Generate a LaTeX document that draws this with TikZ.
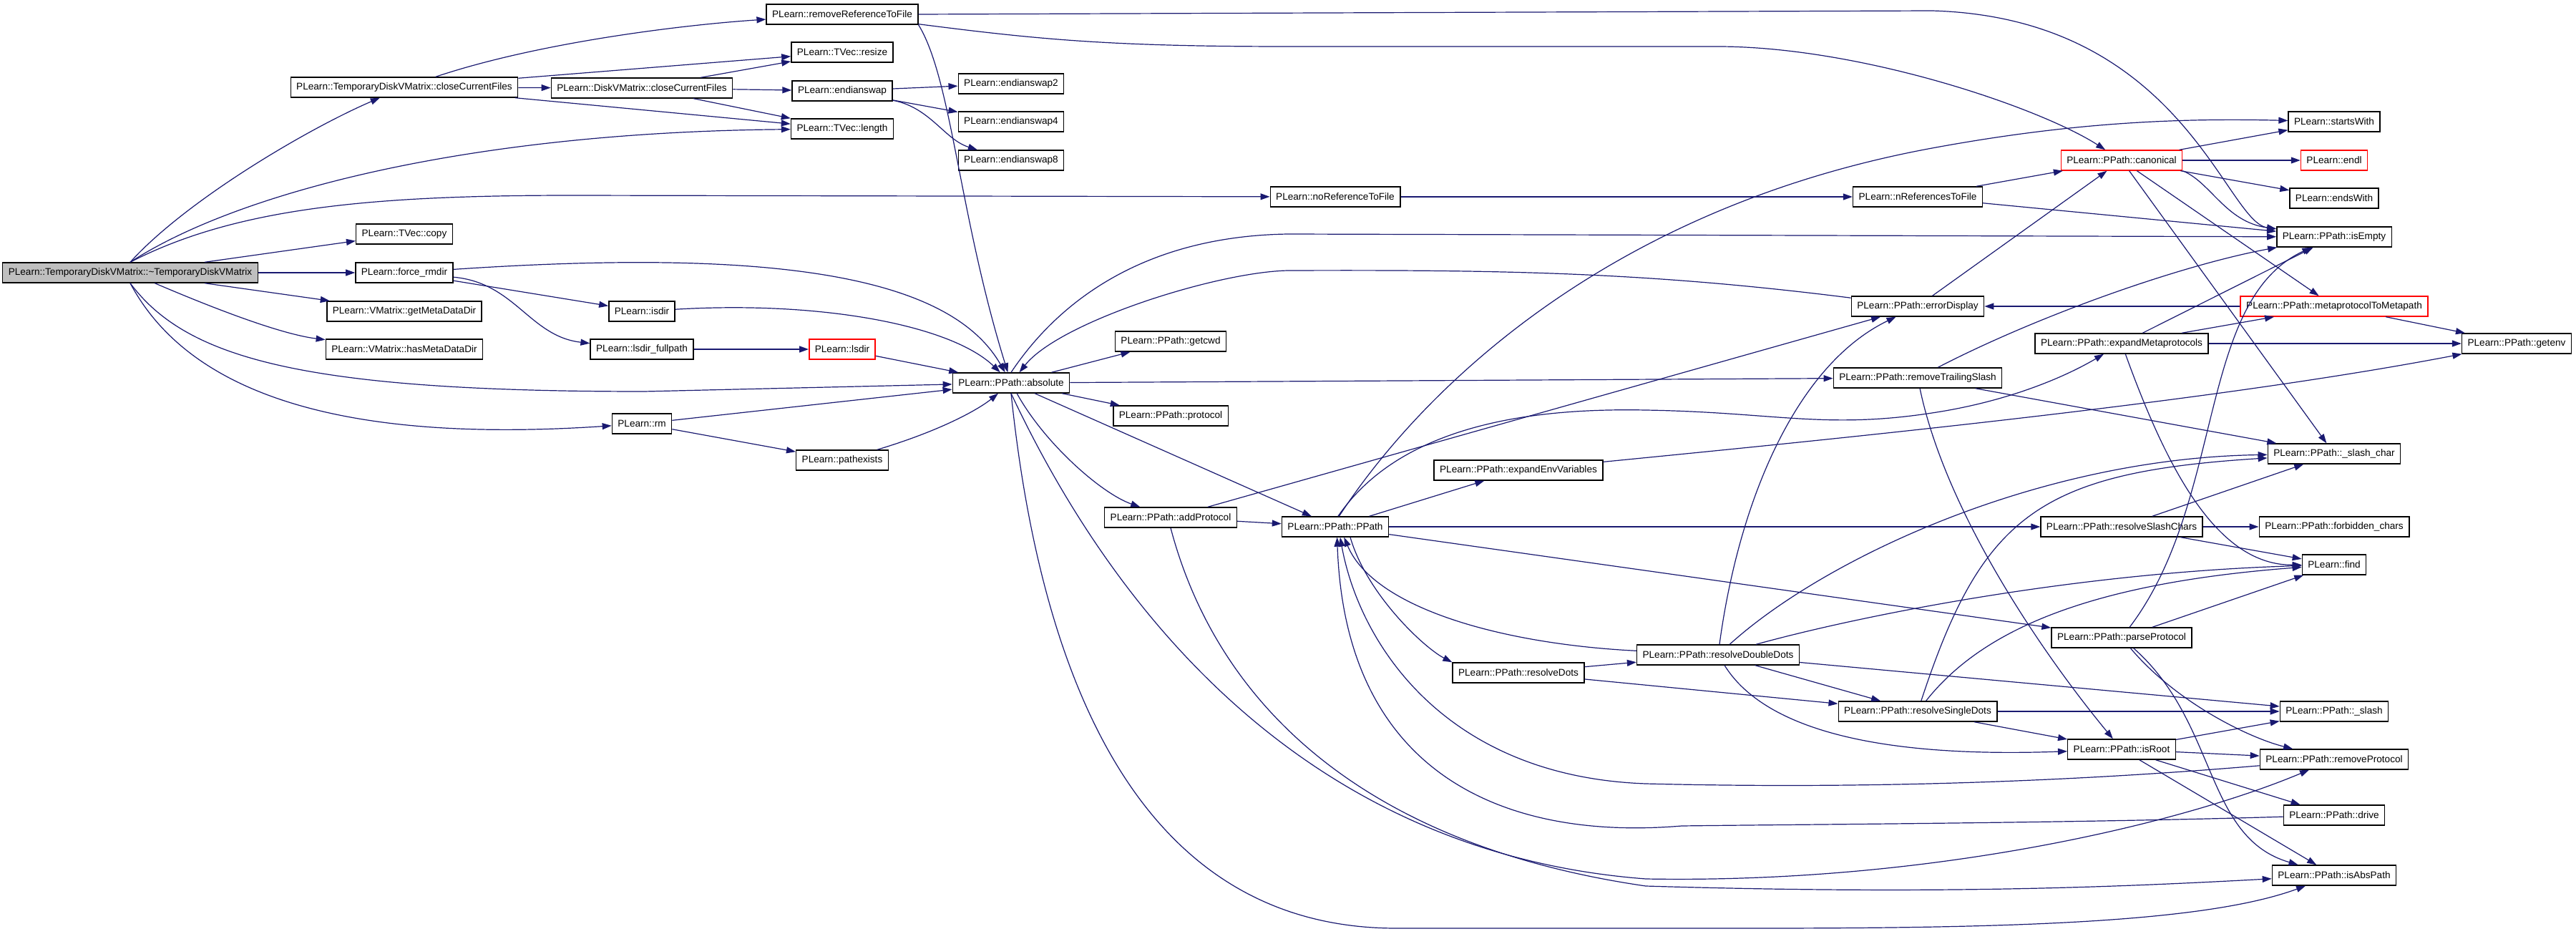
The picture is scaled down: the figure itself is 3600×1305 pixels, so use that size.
\documentclass[tikz,border=0pt]{standalone}
\usepackage{fontspec}
\setmainfont{Liberation Sans}
\usetikzlibrary{arrows.meta}
\definecolor{callblue}{HTML}{191970}

\begin{document}
\begin{tikzpicture}[x=0.5pt,y=-0.5pt,
    fn/.style={draw=black, line width=0.7pt, font=\fontsize{6.8}{8}\selectfont, inner xsep=4pt, inner ysep=0pt, minimum height=14pt},
    fnred/.style={fn, draw=red},
    fnroot/.style={fn, fill=black!25},
    call/.style={draw=callblue, line width=0.6pt, -{Triangle[length=6.5pt,width=4.5pt]}}]
    \useasboundingbox (0,0) rectangle (3600,1305);

    \node[fnroot] (main) at (182,381) {PLearn::TemporaryDiskVMatrix::\textasciitilde TemporaryDiskVMatrix};
    \node[fn] (tdvmClose) at (565,122) {PLearn::TemporaryDiskVMatrix::closeCurrentFiles};
    \node[fn] (copy) at (565,327) {PLearn::TVec::copy};
    \node[fn] (forceRmdir) at (565,381) {PLearn::force\_rmdir};
    \node[fn] (getMeta) at (565,435) {PLearn::VMatrix::getMetaDataDir};
    \node[fn] (hasMeta) at (565,488) {PLearn::VMatrix::hasMetaDataDir};
    \node[fn] (dvmClose) at (897,123) {PLearn::DiskVMatrix::closeCurrentFiles};
    \node[fn] (isdir) at (897,435) {PLearn::isdir};
    \node[fn] (lsdirFull) at (897,488) {PLearn::lsdir\_fullpath};
    \node[fn] (rm) at (897,592) {PLearn::rm};
    \node[fn] (removeRef) at (1177,20) {PLearn::removeReferenceToFile};
    \node[fn] (resize) at (1177,73) {PLearn::TVec::resize};
    \node[fn] (endianswap) at (1177,127) {PLearn::endianswap};
    \node[fn] (length) at (1177,180) {PLearn::TVec::length};
    \node[fnred] (lsdir) at (1177,488) {PLearn::lsdir};
    \node[fn] (pathexists) at (1177,643) {PLearn::pathexists};
    \node[fn] (swapTwo) at (1413,117) {PLearn::endianswap2};
    \node[fn] (swapFour) at (1413,170) {PLearn::endianswap4};
    \node[fn] (swapEight) at (1413,224) {PLearn::endianswap8};
    \node[fn] (absolute) at (1413,535) {PLearn::PPath::absolute};
    \node[fn] (getcwd) at (1636,477) {PLearn::PPath::getcwd};
    \node[fn] (protocol) at (1636,581) {PLearn::PPath::protocol};
    \node[fn] (addProtocol) at (1636,723) {PLearn::PPath::addProtocol};
    \node[fn] (noRef) at (1866,275) {PLearn::noReferenceToFile};
    \node[fn] (ppath) at (1866,736) {PLearn::PPath::PPath};
    \node[fn] (expandEnv) at (2122,657) {PLearn::PPath::expandEnvVariables};
    \node[fn] (resolveDots) at (2122,940) {PLearn::PPath::resolveDots};
    \node[fn] (resolveDD) at (2401,915) {PLearn::PPath::resolveDoubleDots};
    \node[fn] (nRef) at (2680,275) {PLearn::nReferencesToFile};
    \node[fn] (errorDisplay) at (2680,428) {PLearn::PPath::errorDisplay};
    \node[fn] (removeTrailing) at (2680,528) {PLearn::PPath::removeTrailingSlash};
    \node[fn] (resolveSD) at (2680,994) {PLearn::PPath::resolveSingleDots};
    \node[fnred] (canonical) at (2965,224) {PLearn::PPath::canonical};
    \node[fn] (expandMeta) at (2965,480) {PLearn::PPath::expandMetaprotocols};
    \node[fn] (resolveSlash) at (2965,736) {PLearn::PPath::resolveSlashChars};
    \node[fn] (parseProtocol) at (2965,891) {PLearn::PPath::parseProtocol};
    \node[fn] (isRoot) at (2965,1047) {PLearn::PPath::isRoot};
    \node[fn] (startsWith) at (3262,170) {PLearn::startsWith};
    \node[fnred] (endl) at (3262,224) {PLearn::endl};
    \node[fn] (endsWith) at (3262,277) {PLearn::endsWith};
    \node[fn] (isEmpty) at (3262,331) {PLearn::PPath::isEmpty};
    \node[fnred] (metaToMeta) at (3262,428) {PLearn::PPath::metaprotocolToMetapath};
    \node[fn] (slashChar) at (3262,634) {PLearn::PPath::\_slash\_char};
    \node[fn] (forbidden) at (3262,736) {PLearn::PPath::forbidden\_chars};
    \node[fn] (find) at (3262,789) {PLearn::find};
    \node[fn] (slash) at (3262,994) {PLearn::PPath::\_slash};
    \node[fn] (removeProtocol) at (3262,1061) {PLearn::PPath::removeProtocol};
    \node[fn] (drive) at (3262,1139) {PLearn::PPath::drive};
    \node[fn] (isAbsPath) at (3262,1223) {PLearn::PPath::isAbsPath};
    \node[fn] (getenv) at (3517,480) {PLearn::PPath::getenv};

    \draw[call] (main.north) .. controls (260,280) and (430,180) .. (tdvmClose);
    \draw[call] (main.north) .. controls (330,270) and (650,185) .. (length);
    \draw[call] (main.north) .. controls (330,290) and (520,273) .. (800,273) -- (noRef);
    \draw[call] (main) -- (copy);
    \draw[call] (main) -- (forceRmdir);
    \draw[call] (main) -- (getMeta);
    \draw[call] (main) .. controls (320,440) and (400,468) .. (hasMeta);
    \draw[call] (main.south) .. controls (260,500) and (420,547) .. (900,547) -- (absolute);
    \draw[call] (main.south) .. controls (280,580) and (550,615) .. (rm);

    \draw[call] (tdvmClose) .. controls (750,60) and (950,35) .. (removeRef);
    \draw[call] (tdvmClose) -- (resize);
    \draw[call] (tdvmClose) -- (dvmClose);
    \draw[call] (tdvmClose) -- (length);
    \draw[call] (dvmClose) -- (resize);
    \draw[call] (dvmClose) -- (endianswap);
    \draw[call] (dvmClose) -- (length);
    \draw[call] (endianswap) -- (swapTwo);
    \draw[call] (endianswap) -- (swapFour);
    \draw[call] (endianswap) .. controls (1300,150) and (1320,195) .. (swapEight);

    \draw[call] (removeRef.east) -- (2700,15) .. controls (3050,25) and (3110,310) .. (isEmpty);
    \draw[call] (removeRef) .. controls (1450,55) and (1550,65) .. (1800,65) -- (2400,65) .. controls (2600,65) and (2850,150) .. (canonical);
    \draw[call] (removeRef.south east) .. controls (1330,110) and (1340,300) .. (absolute);
    \draw[call] (noRef) -- (nRef);
    \draw[call] (nRef) -- (canonical);
    \draw[call] (nRef) -- (isEmpty);

    \draw[call] (forceRmdir) -- (isdir);
    \draw[call] (forceRmdir) .. controls (720,395) and (740,470) .. (lsdirFull);
    \draw[call] (forceRmdir) .. controls (1100,345) and (1330,390) .. (absolute);
    \draw[call] (isdir) .. controls (1150,420) and (1330,455) .. (absolute);
    \draw[call] (lsdirFull) -- (lsdir);
    \draw[call] (lsdir) -- (absolute);
    \draw[call] (rm) -- (absolute);
    \draw[call] (rm) -- (pathexists);
    \draw[call] (pathexists) .. controls (1320,600) and (1370,570) .. (absolute);

    \draw[call] (absolute) -- (getcwd);
    \draw[call] (absolute) -- (protocol);
    \draw[call] (absolute) .. controls (1460,620) and (1540,690) .. (addProtocol);
    \draw[call] (absolute) -- (ppath);
    \draw[call] (absolute) -- (removeTrailing);
    \draw[call] (absolute.north) .. controls (1480,420) and (1600,330) .. (1800,327) -- (isEmpty);
    \draw[call] (absolute.south) .. controls (1540,820) and (1800,1190) .. (2300,1228) .. controls (2700,1235) and (3050,1150) .. (removeProtocol);
    \draw[call] (absolute.south) .. controls (1460,1000) and (1620,1296) .. (1950,1297) -- (2450,1297) .. controls (2800,1297) and (3080,1290) .. (isAbsPath);
    \draw[call] (errorDisplay) .. controls (2300,380) and (2100,377) .. (1800,378) .. controls (1700,380) and (1480,450) .. (absolute);
    \draw[call] (addProtocol) -- (errorDisplay);
    \draw[call] (addProtocol) -- (ppath);
    \draw[call] (addProtocol.south) .. controls (1700,980) and (1900,1180) .. (2300,1238) .. controls (2700,1250) and (2950,1240) .. (isAbsPath);

    \draw[call] (ppath) -- (expandEnv);
    \draw[call] (ppath) -- (resolveSlash);
    \draw[call] (ppath) -- (parseProtocol);
    \draw[call] (ppath.70) .. controls (1990,540) and (2250,290) .. (2700,207) .. controls (2900,170) and (3050,165) .. (startsWith);
    \draw[call] (ppath.75) .. controls (1960,590) and (2150,570) .. (2300,573) .. controls (2480,576) and (2550,600) .. (2700,577) .. controls (2800,562) and (2880,530) .. (expandMeta);
    \draw[call] (ppath.-35) .. controls (1910,830) and (1990,905) .. (resolveDots.north west);
    \draw[call] (resolveDD) .. controls (2100,900) and (1920,850) .. (ppath.-50);
    \draw[call] (removeProtocol) .. controls (2800,1100) and (2500,1100) .. (2300,1095) .. controls (2020,1085) and (1900,900) .. (ppath.-65);
    \draw[call] (drive) .. controls (2900,1150) and (2500,1152) .. (2350,1154) .. controls (2100,1175) and (1880,1080) .. (ppath.-80);
    \draw[call] (expandEnv) .. controls (2600,610) and (3100,560) .. (getenv);

    \draw[call] (resolveDots) -- (resolveDD);
    \draw[call] (resolveDots) -- (resolveSD);
    \draw[call] (resolveDD) .. controls (2430,700) and (2510,510) .. (errorDisplay);
    \draw[call] (resolveDD) .. controls (2550,780) and (2850,640) .. (slashChar);
    \draw[call] (resolveDD) .. controls (2600,860) and (2900,800) .. (find);
    \draw[call] (resolveDD) -- (slash);
    \draw[call] (resolveDD) -- (resolveSD);
    \draw[call] (resolveDD) .. controls (2460,1010) and (2600,1060) .. (isRoot);
    \draw[call] (resolveSD) -- (isRoot);
    \draw[call] (resolveSD) -- (slash);
    \draw[call] (resolveSD) .. controls (2770,720) and (2850,660) .. (slashChar);
    \draw[call] (resolveSD) .. controls (2770,880) and (2920,815) .. (find);
    \draw[call] (isRoot) -- (slash);
    \draw[call] (isRoot) -- (removeProtocol);
    \draw[call] (isRoot) -- (drive);
    \draw[call] (isRoot) -- (isAbsPath);

    \draw[call] (removeTrailing) .. controls (2850,440) and (3050,370) .. (isEmpty);
    \draw[call] (removeTrailing) -- (slashChar);
    \draw[call] (removeTrailing) .. controls (2720,720) and (2860,920) .. (isRoot);
    \draw[call] (errorDisplay) -- (canonical);
    \draw[call] (metaToMeta) -- (errorDisplay);
    \draw[call] (metaToMeta) -- (getenv);
    \draw[call] (expandMeta) -- (metaToMeta);
    \draw[call] (expandMeta) -- (getenv);
    \draw[call] (expandMeta) -- (isEmpty);
    \draw[call] (expandMeta) .. controls (3030,660) and (3100,790) .. (find);

    \draw[call] (resolveSlash) -- (slashChar);
    \draw[call] (resolveSlash) -- (forbidden);
    \draw[call] (resolveSlash) -- (find);
    \draw[call] (parseProtocol) .. controls (3110,700) and (3070,420) .. (isEmpty);
    \draw[call] (parseProtocol) -- (find);
    \draw[call] (parseProtocol) .. controls (3040,980) and (3140,1030) .. (removeProtocol);
    \draw[call] (parseProtocol) .. controls (3100,1010) and (3080,1170) .. (isAbsPath);

    \draw[call] (canonical) -- (startsWith);
    \draw[call] (canonical) -- (endl);
    \draw[call] (canonical) -- (endsWith);
    \draw[call] (canonical.south east) .. controls (3090,255) and (3110,310) .. (isEmpty);
    \draw[call] (canonical) -- (slashChar);
    \draw[call] (canonical) -- (metaToMeta);
\end{tikzpicture}
\end{document}
